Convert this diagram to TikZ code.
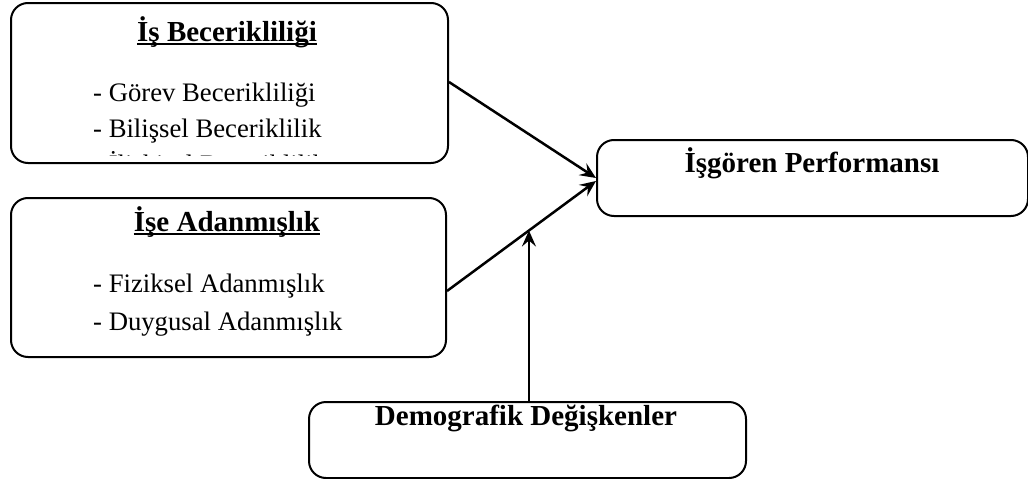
\documentclass[tikz,border=0pt]{standalone}
\usepackage{fontspec}
\setmainfont{Liberation Serif}
\usetikzlibrary{arrows.meta,calc}
\begin{document}
\begin{tikzpicture}[x=1pt,y=-1pt,
  box/.style={draw,line width=2pt,rounded corners=17pt,anchor=north west,inner sep=0pt},
  ttl/.style={inner sep=0pt,anchor=base,font=\fontsize{29}{35}\selectfont\bfseries},
  itm/.style={inner sep=0pt,anchor=base west,font=\fontsize{26.7}{32}\selectfont},
  arr/.style={line width=2.5pt,-{Stealth[length=16pt,width=14pt,inset=6pt]}},
  ul/.style={line width=1.8pt}]
\useasboundingbox (0,0) rectangle (1028,479);
% boxes
\node[box,minimum width=437pt,minimum height=160pt] (b1) at (10,2) {};
\node[box,minimum width=435pt,minimum height=159pt] (b2) at (10,197) {};
\node[box,minimum width=431pt,minimum height=76pt] (b3) at (596,139) {};
\node[box,minimum width=437pt,minimum height=76pt] (b4) at (308,401) {};
% box 1 text
\node[ttl] (t1) at (227,41) {İş Becerikliliği};
\draw[ul] ([yshift=-3pt]t1.base west) -- ([yshift=-3pt]t1.base east);
\node[itm] (i11) at (93,101) {- Görev Becerikliliği};
\node[itm] (i12) at (93,137) {- Bilişsel Beceriklilik};
\begin{scope}
\clip (0,0) rectangle (1028,155);
\node[itm] (i13) at (93,173) {- İlişkisel Beceriklilik};
\end{scope}
% box 2 text
\node[ttl] (t2) at (227,231) {İşe Adanmışlık};
\draw[ul] ([yshift=-3pt]t2.base west) -- ([yshift=-3pt]t2.base east);
\node[itm] (i21) at (93,292) {- Fiziksel Adanmışlık};
\node[itm] (i22) at (93,330) {- Duygusal Adanmışlık};
% box 3 & 4 text
\node[ttl] (t3) at (812,172) {İşgören Performansı};
\node[ttl] (t4) at (526,425) {Demografik Değişkenler};
% connectors
\coordinate (s1) at (b1.east |- 0,82);
\coordinate (s2) at (b2.east |- 0,291);
\coordinate (e1) at ($(b3.west)+(0,0)$);
\coordinate (e2) at ($(b3.west)+(0,3)$);
\draw[arr] (s1) -- (e1);
\draw[arr] (s2) -- (e2);
\coordinate (m) at ($(s2)!0.55!(e2)$);
\draw[arr] (m |- b4.north) -- (m);
\end{tikzpicture}
\end{document}
